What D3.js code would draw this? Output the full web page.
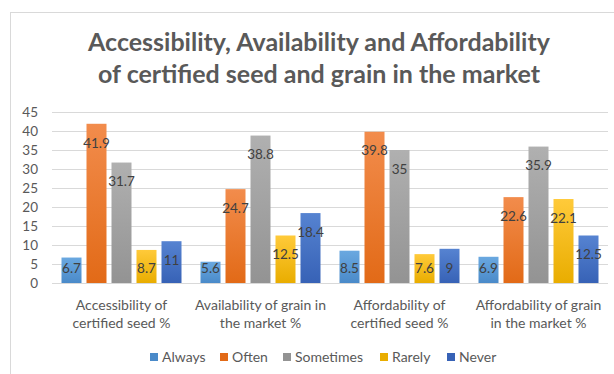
<!DOCTYPE html>
<html>
<head>
<meta charset="utf-8">
<script src="https://cdn.jsdelivr.net/npm/d3@7"></script>
<style>
  body { margin: 0; background: #fff; }
  svg { display: block; font-family: Lato, "Open Sans", sans-serif; }
</style>
</head>
<body>
<div id="chart"></div>
<script>
var categories = [
  ["Accessibility of", "certified seed %"],
  ["Availability of grain in", "the market %"],
  ["Affordability of", "certified seed %"],
  ["Affordability of grain", "in the market %"]
];
var series = ["Always", "Often", "Sometimes", "Rarely", "Never"];
var always = [6.7, 5.6, 8.5, 6.9];
var often = [41.9, 24.7, 39.8, 22.6];
var sometimes = [31.7, 38.8, 35, 35.9];
var rarely = [8.7, 12.5, 7.6, 22.1];
var never = [11, 18.4, 9, 12.5];
var yTicks = [0, 5, 10, 15, 20, 25, 30, 35, 40, 45];

function init() {
  var w = 614;
  var h = 374;
  var values = [always, often, sometimes, rarely, never];
  var colors = [
    ["#6aa8e0", "#4a8ac9"],
    ["#f28c4c", "#e26a17"],
    ["#b0b0b0", "#939393"],
    ["#ffca3a", "#e9ad00"],
    ["#5683d1", "#3762b6"]
  ];

  var svg = d3.select("#chart")
    .append("svg")
    .attr("width", w)
    .attr("height", h);

  var defs = svg.append("defs");
  colors.forEach(function(c, i) {
    var g = defs.append("linearGradient")
      .attr("id", "grad" + i)
      .attr("x1", 0).attr("y1", 0).attr("x2", 0).attr("y2", 1);
    g.append("stop").attr("offset", "0%").attr("stop-color", c[0]);
    g.append("stop").attr("offset", "100%").attr("stop-color", c[1]);
  });

  // chart border
  svg.append("rect")
    .attr("x", 10.5).attr("y", 12.5)
    .attr("width", 620).attr("height", 380)
    .attr("fill", "none")
    .attr("stroke", "#d9d9d9");

  // title
  var title = svg.append("text")
    .attr("text-anchor", "middle")
    .attr("fill", "#595959")
    .attr("font-size", "25px")
    .attr("font-weight", "bold");
  title.append("tspan").attr("x", 319).attr("y", 51)
    .text("Accessibility, Availability and Affordability");
  title.append("tspan").attr("x", 319).attr("y", 83)
    .text("of certified seed and grain in the market");

  var x0 = d3.scaleBand()
    .domain(d3.range(categories.length))
    .range([52, 608]);

  var x1 = d3.scaleBand()
    .domain(series)
    .range([0, x0.bandwidth()])
    .paddingInner(0.2)
    .paddingOuter(0.38);

  var y = d3.scaleLinear()
    .domain([0, 45])
    .range([283, 112]);

  // gridlines
  svg.append("g")
    .selectAll("line")
    .data(yTicks)
    .enter()
    .append("line")
    .attr("x1", 52).attr("x2", 608)
    .attr("y1", function(d) { return Math.round(y(d)) + 0.5; })
    .attr("y2", function(d) { return Math.round(y(d)) + 0.5; })
    .attr("stroke", "#d9d9d9");

  var yAxis = svg.append("g")
    .attr("transform", "translate(38,0)")
    .call(d3.axisLeft(y).tickValues(yTicks).tickSize(0).tickPadding(0));
  yAxis.select(".domain").remove();
  yAxis.selectAll("text")
    .attr("fill", "#595959")
    .attr("font-size", "13.5px")
    .attr("font-family", "Lato, sans-serif");

  var groups = svg.selectAll("g.grp")
    .data(categories)
    .enter()
    .append("g")
    .attr("class", "grp")
    .attr("transform", function(d, i) { return "translate(" + x0(i) + ",0)"; });

  groups.each(function(cat, ci) {
    var g = d3.select(this);
    var rows = series.map(function(s, si) { return { s: s, si: si, v: values[si][ci] }; });

    g.selectAll("rect")
      .data(rows)
      .enter()
      .append("rect")
      .attr("x", function(d) { return x1(d.s); })
      .attr("y", function(d) { return y(d.v); })
      .attr("width", x1.bandwidth())
      .attr("height", function(d) { return y(0) - y(d.v); })
      .attr("fill", function(d) { return "url(#grad" + d.si + ")"; });

    g.selectAll("text.val")
      .data(rows)
      .enter()
      .append("text")
      .attr("class", "val")
      .attr("x", function(d) { return x1(d.s) + x1.bandwidth() / 2; })
      .attr("y", function(d) { return Math.min(y(d.v) + 19, y(0) - 15); })
      .attr("dy", "0.35em")
      .attr("text-anchor", "middle")
      .attr("fill", "#404040")
      .attr("font-size", "13.5px")
      .text(function(d) { return d.v; });

    var lab = g.append("text")
      .attr("text-anchor", "middle")
      .attr("fill", "#595959")
      .attr("font-size", "14px");
    cat.forEach(function(line, li) {
      lab.append("tspan")
        .attr("x", x0.bandwidth() / 2)
        .attr("y", 310 + li * 18)
        .text(line);
    });
  });

  // legend
  var legendX = [150, 220, 283, 380, 447];
  var legend = svg.selectAll("g.leg")
    .data(series)
    .enter()
    .append("g")
    .attr("class", "leg")
    .attr("transform", function(d, i) { return "translate(" + legendX[i] + ",357)"; });
  legend.append("rect")
    .attr("x", 0).attr("y", -4)
    .attr("width", 8).attr("height", 8)
    .attr("fill", function(d, i) { return colors[i][1]; });
  legend.append("text")
    .attr("x", 12)
    .attr("dy", "0.35em")
    .attr("fill", "#595959")
    .attr("font-size", "14px")
    .text(function(d) { return d; });
}

window.onload = init;
</script>
</body>
</html>
